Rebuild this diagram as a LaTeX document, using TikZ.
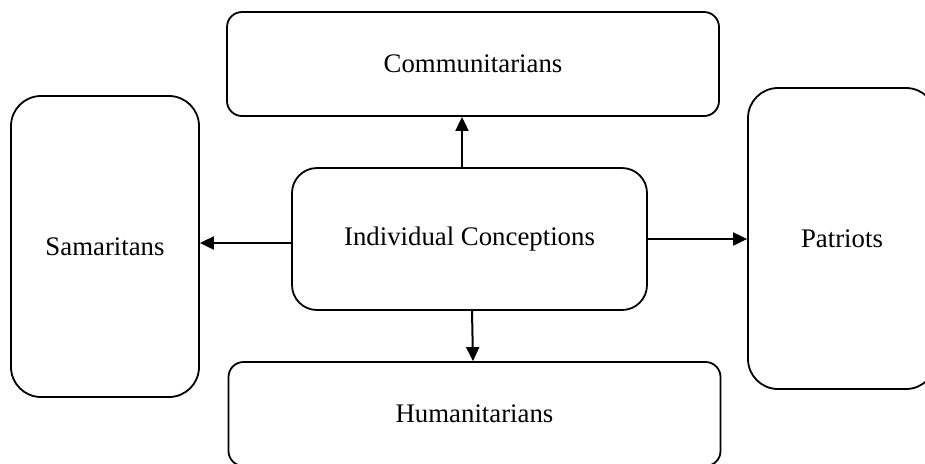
\documentclass[tikz,border=0pt]{standalone}
\usepackage{fontspec}
\setmainfont{Liberation Serif}
\usepackage{tikz}
\usetikzlibrary{arrows.meta,positioning,calc}

\tikzset{
  box/.style={draw, line width=0.9pt, align=center, font=\fontsize{13.4}{16}\selectfont, inner sep=0pt},
  widebox/.style={box, rounded corners=7.5pt, minimum width=246pt, minimum height=52pt},
  tallbox/.style={box, rounded corners=15pt, minimum width=94pt, minimum height=150.5pt},
  arr/.style={line width=1pt, -{Triangle[length=7pt,width=6.5pt]}}
}

\begin{document}
\begin{tikzpicture}[x=0.5pt,y=-0.5pt]
\useasboundingbox (0,0) rectangle (925,463);

\node[widebox] (comm) at (473,64) {Communitarians};

\node[tallbox] (sam) at (105,246.5) {Samaritans};

\node[box, rounded corners=12.5pt, minimum width=177.5pt, minimum height=71pt] (ind) at (469.5,239) {Individual Conceptions};

\node[tallbox] (pat) at (842,238.5) {Patriots};

\node[widebox] (hum) at (474.5,414) {Humanitarians};

\draw[arr] ([xshift=-3.75pt]ind.north) -- ([xshift=-3.75pt]ind.north |- comm.south);
\draw[arr] ([yshift=-2pt]ind.west) -- ([yshift=-2pt]ind.west -| sam.east);
\draw[arr] (ind.east) -- (ind.east -| pat.west);
\draw[arr] ([xshift=1.25pt]ind.south) -- ([xshift=-0.75pt]hum.north);

\end{tikzpicture}
\end{document}
